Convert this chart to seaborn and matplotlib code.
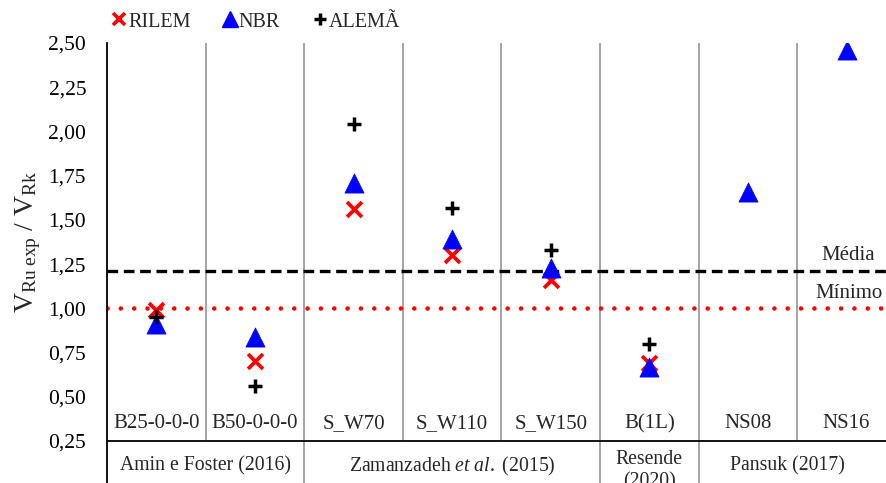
import numpy as np
import pandas as pd
import matplotlib
matplotlib.use("Agg")
import matplotlib.pyplot as plt
import matplotlib.transforms as mtransforms
from matplotlib.lines import Line2D
from matplotlib.ticker import FuncFormatter
import seaborn as sns

# ---------------- data ----------------
categories = ["B25-0-0-0", "B50-0-0-0", "S_W70", "S_W110", "S_W150", "B(1L)", "NS08", "NS16"]
rilem = [0.99, 0.70, 1.56, 1.30, 1.16, 0.69, np.nan, np.nan]
nbr = [0.91, 0.84, 1.71, 1.39, 1.23, 0.67, 1.66, 2.46]
alema = [0.95, 0.56, 2.04, 1.57, 1.33, 0.80, np.nan, np.nan]
groups = ["Amin e Foster (2016)", r"Zamanzadeh $\mathit{et\ al.}$ (2015)", "Resende\n(2020)", "Pansuk (2017)"]
group_sizes = [2, 3, 1, 2]
media = 1.21
minimo = 1.00
yticks = [0.25, 0.50, 0.75, 1.00, 1.25, 1.50, 1.75, 2.00, 2.25, 2.50]

# ---------------- style ----------------
sns.set_theme(style="white")
plt.rcParams["font.family"] = ["Liberation Serif", "DejaVu Serif"]
plt.rcParams["mathtext.fontset"] = "custom"
plt.rcParams["mathtext.rm"] = "Liberation Serif"
plt.rcParams["mathtext.it"] = "Liberation Serif:italic"
plt.rcParams["mathtext.bf"] = "Liberation Serif:bold"

FS = 15
GFS = 14.2
fig = plt.figure(figsize=(8.86, 4.83), dpi=100)
W, H = 886, 483
x0, xtop, ybot = 107, 43, 441
catw = 98.6
ax = fig.add_axes([x0 / W, (H - ybot) / H, 8 * catw / W, (ybot - xtop) / H])

pos = np.arange(len(categories))
df = pd.DataFrame({
    "pos": np.tile(pos, 3),
    "value": rilem + nbr + alema,
    "serie": ["RILEM"] * 8 + ["NBR"] * 8 + ["ALEMÃ"] * 8,
}).dropna()

sns.scatterplot(data=df[df.serie == "RILEM"], x="pos", y="value", marker="x",
                color="#ff0000", s=115, linewidth=2.7, ax=ax, legend=False, zorder=3)
sns.scatterplot(data=df[df.serie == "NBR"], x="pos", y="value", marker="^",
                color="#0000ff", edgecolor="#0000ff", s=190, linewidth=0.5, ax=ax,
                legend=False, zorder=4)
sns.scatterplot(data=df[df.serie == "ALEMÃ"], x="pos", y="value", marker="+",
                color="black", s=115, linewidth=2.5, ax=ax, legend=False, zorder=5)

ax.set_xlim(-0.5, len(categories) - 0.5)
ax.set_ylim(min(yticks), max(yticks))
ax.set_yticks(yticks)
ax.yaxis.set_major_formatter(FuncFormatter(lambda v, p: f"{v:.2f}".replace(".", ",")))
ax.tick_params(axis="y", length=0, pad=15, labelsize=FS + 0.5, colors="black")
ax.set_xticks([])
ax.set_xlabel("")
ax.set_ylabel(r"$\mathrm{V_{Ru\ exp}\ /\ V_{Rk}}$", fontsize=20, labelpad=4)

for side in ["top", "right"]:
    ax.spines[side].set_visible(False)
ax.spines["left"].set_color("black")
ax.spines["left"].set_linewidth(1.3)
ax.spines["bottom"].set_color("black")
ax.spines["bottom"].set_linewidth(1.3)

# reference lines
ax.axhline(media, color="black", linestyle=(0, (3.2, 1.7)), linewidth=2.4, zorder=2)
ax.axhline(minimo, color="#ff0000", linestyle=(0, (0.01, 2.9)), linewidth=3.3,
           dash_capstyle="round", zorder=2)
ax.text(7.29, 1.30, "Média", ha="right", va="center", fontsize=FS)
ax.text(7.37, 1.085, "Mínimo", ha="right", va="center", fontsize=FS)

# separators
ymin = min(yticks)
group_bounds = np.cumsum(group_sizes)[:-1] - 0.5
for b in pos[:-1] + 0.5:
    ax.plot([b, b], [ymin, max(yticks)], color="#8c8c8c", lw=1.1, zorder=1)
for b in group_bounds:
    ax.plot([b, b], [ymin, ymin - 0.5], color="#8c8c8c", lw=1.1, zorder=1, clip_on=False)
ax.plot([-0.5, -0.5], [ymin, ymin - 0.5], color="black", lw=1.3, clip_on=False)

# category labels (inside plot) and group labels (below)
trans = mtransforms.blended_transform_factory(ax.transData, ax.transAxes)
for i, c in enumerate(categories):
    ax.text(i, 0.043, c, ha="center", va="center", fontsize=FS, transform=trans)
start = 0
for k, (g, n) in enumerate(zip(groups, group_sizes)):
    cx = start + (n - 1) / 2
    if k == len(groups) - 1:
        cx -= 0.1  # last group is centred on the visible part of the axis
    yy = -0.075 if "\n" in g else -0.063
    ax.text(cx, yy, g, ha="center", va="center", fontsize=GFS, transform=trans,
            linespacing=1.2)
    start += n

# legend
handles = [
    Line2D([], [], marker="x", color="#ff0000", linestyle="none", markersize=8, markeredgewidth=2.6),
    Line2D([], [], marker="^", color="#0000ff", linestyle="none", markersize=11),
    Line2D([], [], marker="+", color="black", linestyle="none", markersize=9, markeredgewidth=2.5),
]
fig.legend(handles, ["RILEM", "NBR", "ALEMÃ"], loc="center left",
           bbox_to_anchor=(113 / W, 1 - 22 / H), ncol=3, frameon=False,
           fontsize=FS - 0.5, handlelength=0.6, handletextpad=0.15, columnspacing=1.65,
           borderpad=0, borderaxespad=0)

fig.savefig("out.png", dpi=100)
